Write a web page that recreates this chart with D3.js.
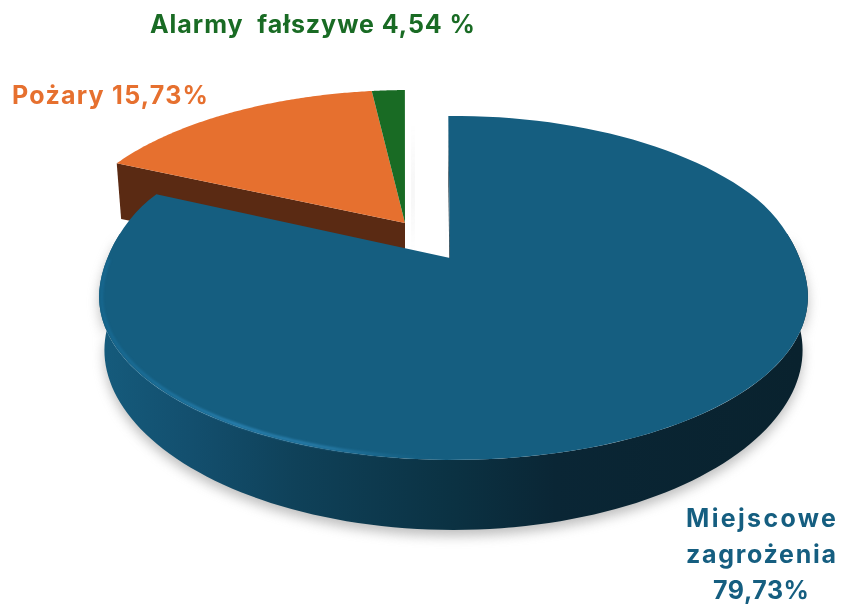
<!DOCTYPE html>
<html lang="pl">
<head>
<meta charset="utf-8">
<script src="https://cdn.jsdelivr.net/npm/d3@7/dist/d3.min.js"></script>
<style>
html,body{margin:0;padding:0;background:#fff}
svg{display:block}
text{font-family:Inter,"Open Sans",sans-serif;font-weight:700}
</style>
</head>
<body>
<svg id="chart" width="841" height="605"></svg>
<script>
// Printed labels
const categories = ["Miejscowe zagrożenia", "Pożary", "Alarmy fałszywe"];
const labelValues = [79.73, 15.73, 4.54];
// Wedge shares as actually drawn in the picture (they differ from the printed percentages)
const drawnShares = [82.0, 16.2, 1.8];
const topColors = ["#155e80", "#e6702f", "#196b24"];
const sideColors = ["#0f3f57", "#5a2a13", "#0e3d15"];

const W = 841, H = 605, rad = Math.PI / 180;
const svg = d3.select("#chart").attr("viewBox", [0, 0, W, H]);
const defs = svg.append("defs");

function blur(id, s) {
  defs.append("filter").attr("id", id).attr("x", "-20%").attr("y", "-20%").attr("width", "140%").attr("height", "140%")
    .attr("color-interpolation-filters", "sRGB")
    .append("feGaussianBlur").attr("stdDeviation", s);
}
blur("shadowBlur", 6); blur("rimBlur", 1.3); blur("soft", 0.55); blur("smallShadow", 4);

function grad(id, stops, x1, x2) {
  const g = defs.append("linearGradient").attr("id", id).attr("gradientUnits", "userSpaceOnUse")
    .attr("x1", x1).attr("x2", x2).attr("y1", 0).attr("y2", 0);
  stops.forEach(([o, c, a]) => g.append("stop").attr("offset", o).attr("stop-color", c).attr("stop-opacity", a === undefined ? 1 : a));
}
grad("wall", [[0, "#155b7c"], [0.13, "#134f6e"], [0.28, "#0f4159"], [0.5, "#0b3243"], [0.65, "#0a2635"], [1, "#09222e"]], 100, 800);
grad("rim", [[0, "#1a76a6", .4], [0.25, "#2a82b2", .95], [0.42, "#2a80ae", .85], [0.62, "#1c6e98", 0]], 100, 640);

// Perspective projection of the pie's disc
const pieGen = d3.pie().sort(null).value(d => d).startAngle(-1 * rad).endAngle(359 * rad);
const arcs = pieGen(drawnShares);
const persp = -0.174, A = 349, B = 166.8, bottomScale = 0.985, sideSag = 9;
const smooth = d3.scaleLinear().domain([-0.4, 0.1]).range([0, 1]).clamp(true);

function disc(o) {
  return function (theta, r = 1, z = 0) {
    const u = r * Math.sin(theta), v = -r * Math.cos(theta);
    const k = 1 / (1 + persp * v) * (z ? bottomScale : 1);
    const s = smooth(v), sag = sideSag * u * u * s * s * (3 - 2 * s);
    const drop = z ? 53 + 17 * v * v : 0;
    return [o.cx + (r === 0 ? o.ax : 0) + o.sx * A * u * k,
            o.cy + o.sy * B * v / (1 + persp * v) + sag + drop];
  };
}
const blueDisc = disc({cx: 453.5, cy: 258, sx: 1, sy: 1, ax: -3.5});
const sideDisc = disc({cx: 410, cy: 223, sx: 0.987, sy: 0.936, ax: -5});
const line = d3.line();
const samples = (a, b, n = 120) => d3.range(n + 1).map(i => a + (b - a) * i / n);

function wedge(f, a) {
  return line([f(0, 0)].concat(samples(a.startAngle, a.endAngle).map(t => f(t)))) + "Z";
}
function wall(f, a, b) {
  const s = samples(a, b);
  return line(s.map(t => f(t)).concat(s.slice().reverse().map(t => f(t, 1, 1)))) + "Z";
}
function radial(f, t) {
  return line([f(0, 0), f(t), f(t, 1, 1), f(0, 0, 1)]) + "Z";
}

const [blue, orange, green] = arcs;

// soft drop shadows
const shadows = svg.append("g");
shadows.append("path").attr("d", wall(blueDisc, 80 * rad, 280 * rad)).attr("fill", "#8a8a8a").attr("opacity", .55)
  .attr("transform", "translate(0,6)").attr("filter", "url(#shadowBlur)");
shadows.append("path").attr("d", line([sideDisc(0, 0), sideDisc(green.endAngle, .55), sideDisc(green.endAngle, .55, 1), sideDisc(0, 0, 1)]) + "Z")
  .attr("fill", "#777").attr("opacity", .42).attr("transform", "translate(7,-22)").attr("filter", "url(#smallShadow)");
shadows.append("path").attr("d", line([blueDisc(0, 0), blueDisc(blue.startAngle, .58), blueDisc(blue.startAngle, .58, 1)]) + "Z")
  .attr("fill", "#666").attr("opacity", .45).attr("transform", "translate(-4,4)").attr("filter", "url(#smallShadow)");

const g = svg.append("g").attr("filter", "url(#soft)");

// orange + green wedges, behind the big one
g.append("path").attr("d", radial(sideDisc, orange.startAngle)).attr("fill", sideColors[1]);
g.append("path").attr("d", radial(sideDisc, green.endAngle)).attr("fill", sideColors[1]);
g.append("path").attr("d", wedge(sideDisc, orange)).attr("fill", topColors[1]);
g.append("path").attr("d", wedge(sideDisc, green)).attr("fill", topColors[2]);

// big wedge
g.append("path").attr("d", radial(blueDisc, blue.startAngle)).attr("fill", "#08222f");
g.append("path").attr("d", wall(blueDisc, 80 * rad, 280 * rad)).attr("fill", "url(#wall)");
g.append("path").attr("d", wedge(blueDisc, blue)).attr("fill", topColors[0]);
g.append("path")
  .attr("d", line(samples(150 * rad, 272 * rad).map(t => blueDisc(t, 0.993))))
  .attr("fill", "none").attr("stroke", "url(#rim)").attr("stroke-width", 3)
  .attr("filter", "url(#rimBlur)");

// labels
const pct = v => v.toFixed(2).replace(".", ",");
const labels = svg.append("g").attr("filter", "url(#soft)");
labels.append("text").attr("x", 150).attr("y", 33).attr("fill", topColors[2]).attr("font-size", 25)
  .attr("textLength", 325).attr("xml:space", "preserve").text(`${categories[2].replace(" ", "  ")} ${pct(labelValues[2])} %`);
labels.append("text").attr("x", 12).attr("y", 104).attr("fill", topColors[1]).attr("font-size", 25)
  .attr("textLength", 196).text(`${categories[1]} ${pct(labelValues[1])}%`);
const [w1, w2] = categories[0].split(" ");
[[w1, 527, 150], [w2, 563, 150], [pct(labelValues[0]) + "%", 599, 96]].forEach(([t, y, len]) => {
  labels.append("text").attr("x", 761 - len / 2).attr("y", y)
    .attr("fill", topColors[0]).attr("font-size", 25).attr("textLength", len).text(t);
});
</script>
</body>
</html>
